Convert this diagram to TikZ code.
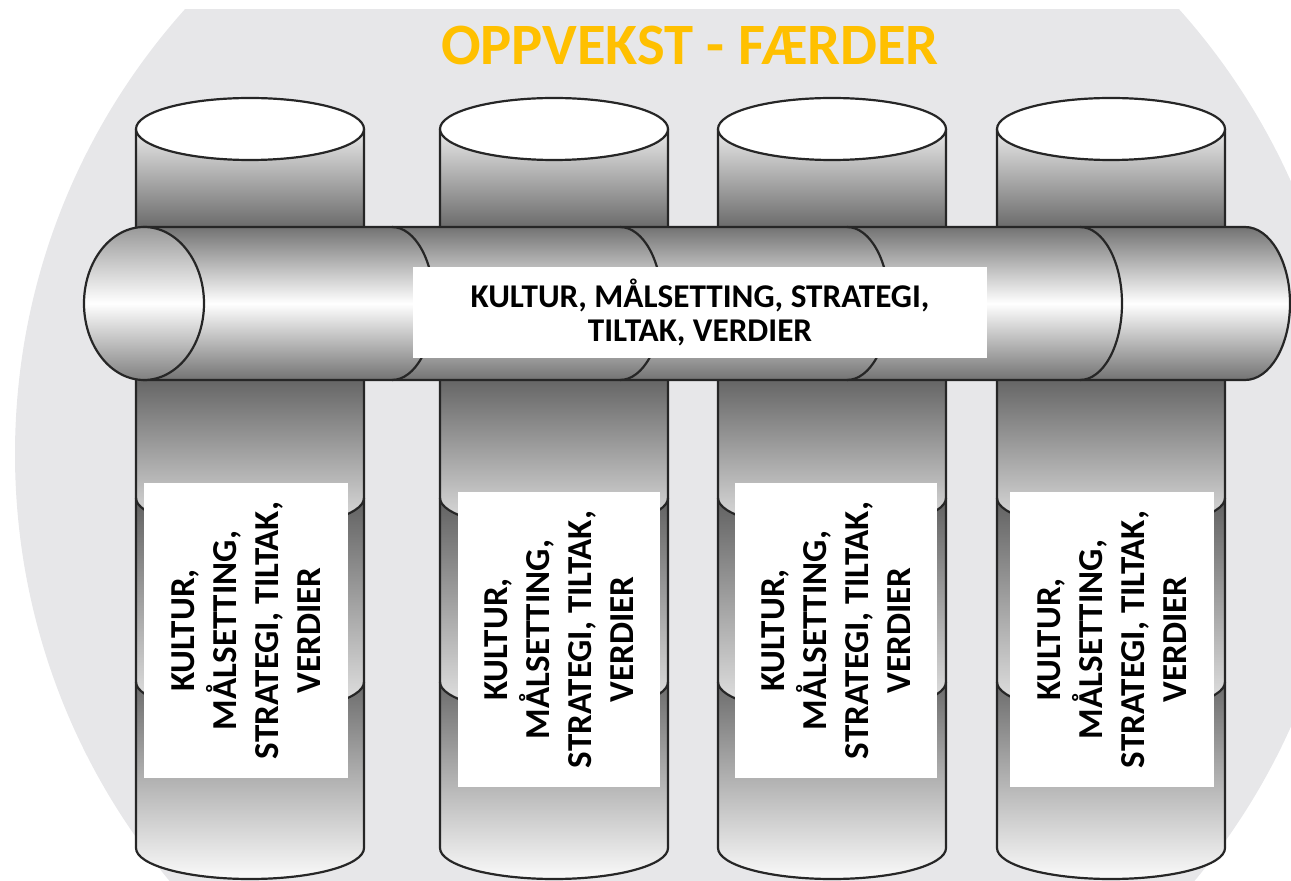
\documentclass[tikz,border=0pt]{standalone}
\usepackage{fontspec}
\setmainfont{Carlito}

\definecolor{bggrey}{RGB}{231,231,233}
\definecolor{gold}{RGB}{255,192,0}

\begin{document}
\begin{tikzpicture}[x=0.5pt,y=0.5pt,line width=1.1pt,
    outline/.style={draw=black!85},
    plate/.style={fill=white,inner sep=0pt,align=center,font=\fontsize{17.5}{21}\selectfont\bfseries},
    column/.pic={
        \shade[top color=black!8,bottom color=black!58] (-114,653) rectangle (114,751);
        \shade[top color=black!60,bottom color=black!12] (-114,500) -- (114,500) -- (114,382)
            arc[start angle=0,end angle=-180,x radius=114,y radius=31] -- cycle;
        \shade[top color=black!62,bottom color=black!10] (-114,382)
            arc[start angle=180,end angle=360,x radius=114,y radius=31] -- (114,198)
            arc[start angle=0,end angle=-180,x radius=114,y radius=31] -- cycle;
        \shade[top color=black!58,bottom color=black!2] (-114,198)
            arc[start angle=180,end angle=360,x radius=114,y radius=31] -- (114,32)
            arc[start angle=0,end angle=-180,x radius=114,y radius=31] -- cycle;
        \draw[outline] (-114,751) -- (-114,32)
            arc[start angle=180,end angle=360,x radius=114,y radius=31] -- (114,751);
        \draw[outline] (-114,382) arc[start angle=180,end angle=360,x radius=114,y radius=31];
        \draw[outline] (-114,198) arc[start angle=180,end angle=360,x radius=114,y radius=31];
        \draw[outline,fill=white] (0,751) ellipse[x radius=114,y radius=31];
    }]
    \useasboundingbox (0,0) rectangle (1291,880);
    \begin{scope}
        \clip (0,0) rectangle (1291,870);
        \fill[bggrey] (682,426) circle[radius=667];
    \end{scope}
    \node[text=gold,font=\fontsize{29.3}{35}\selectfont\bfseries] (title) at (690,835) {OPPVEKST - FÆRDER};

    \pic at (250,0) {column};
    \pic at (554,0) {column};
    \pic at (832,0) {column};
    \pic at (1111,0) {column};

    % the pipe across
    \shadedraw[outline,top color=black!55,bottom color=black!55,middle color=white] (144,653) -- (1245,653)
        arc[start angle=90,end angle=-90,x radius=45,y radius=76.5] -- (144,500) -- cycle;
    \draw[outline] (392,653) arc[start angle=90,end angle=-90,x radius=42,y radius=76.5];
    \draw[outline] (620,653) arc[start angle=90,end angle=-90,x radius=42,y radius=76.5];
    \draw[outline] (847,653) arc[start angle=90,end angle=-90,x radius=42,y radius=76.5];
    \draw[outline] (1080,653) arc[start angle=90,end angle=-90,x radius=42,y radius=76.5];
    \shadedraw[outline,top color=black!40,bottom color=black!50,middle color=white] (144,576.5) ellipse[x radius=60,y radius=76.5];

    \node[plate,minimum width=287pt,minimum height=45.5pt,font=\fontsize{16.6}{17}\selectfont\bfseries] (pipe) at (700,567.5)
        {KULTUR, MÅLSETTING, STRATEGI,\\ TILTAK, VERDIER};
    \node[plate,rotate=90,minimum width=147.5pt,minimum height=102pt] (p1) at (246,249.5)
        {KULTUR,\\ MÅLSETTING,\\ STRATEGI, TILTAK,\\ VERDIER};
    \node[plate,rotate=90,minimum width=147.5pt,minimum height=101pt] (p2) at (559,240.5)
        {KULTUR,\\ MÅLSETTING,\\ STRATEGI, TILTAK,\\ VERDIER};
    \node[plate,rotate=90,minimum width=147.5pt,minimum height=101pt] (p3) at (836,249.5)
        {KULTUR,\\ MÅLSETTING,\\ STRATEGI, TILTAK,\\ VERDIER};
    \node[plate,rotate=90,minimum width=147.5pt,minimum height=102pt] (p4) at (1112,240.5)
        {KULTUR,\\ MÅLSETTING,\\ STRATEGI, TILTAK,\\ VERDIER};
\end{tikzpicture}
\end{document}
